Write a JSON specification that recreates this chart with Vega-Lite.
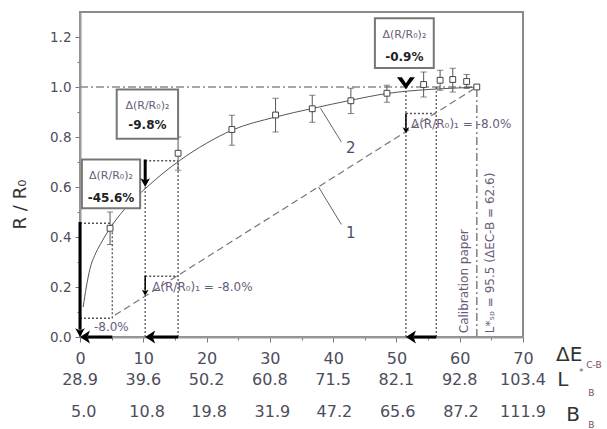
{
"$schema": "https://vega.github.io/schema/vega-lite/v6.json",
"width": 443, "height": 325,
"autosize": {"type": "none"},
"padding": {"left": 80, "top": 12, "right": 84, "bottom": 92},
"background": "white",
"config": {"view": {"stroke": "#8a8a8a", "strokeWidth": 2}, "font": "DejaVu Sans", "text": {"font": "DejaVu Sans"}},
"datasets": {
 "pts": [
  {"x": 4.75, "y": 0.435}, {"x": 15.5, "y": 0.735}, {"x": 24, "y": 0.83}, {"x": 30.9, "y": 0.888},
  {"x": 36.7, "y": 0.913}, {"x": 42.8, "y": 0.945}, {"x": 48.5, "y": 0.975}, {"x": 54.3, "y": 1.01},
  {"x": 56.9, "y": 1.027}, {"x": 58.9, "y": 1.03}, {"x": 61.1, "y": 1.022}, {"x": 62.7, "y": 1.0}
 ],
 "err": [
  {"x": 4.75, "y": 0.37, "y2": 0.5}, {"x": 15.5, "y": 0.667, "y2": 0.8}, {"x": 24, "y": 0.767, "y2": 0.887},
  {"x": 30.9, "y": 0.82, "y2": 0.955}, {"x": 36.7, "y": 0.859, "y2": 0.967}, {"x": 42.8, "y": 0.894, "y2": 0.995},
  {"x": 48.5, "y": 0.939, "y2": 1.007}, {"x": 54.3, "y": 0.96, "y2": 1.06}, {"x": 56.9, "y": 0.987, "y2": 1.067},
  {"x": 58.9, "y": 0.98, "y2": 1.075}, {"x": 61.1, "y": 0.994, "y2": 1.05}
 ],
 "caps": [
  {"x": 4.75, "y": 0.37}, {"x": 4.75, "y": 0.5}, {"x": 15.5, "y": 0.667}, {"x": 15.5, "y": 0.8},
  {"x": 24, "y": 0.767}, {"x": 24, "y": 0.887}, {"x": 30.9, "y": 0.82}, {"x": 30.9, "y": 0.955},
  {"x": 36.7, "y": 0.859}, {"x": 36.7, "y": 0.967}, {"x": 42.8, "y": 0.894}, {"x": 42.8, "y": 0.995},
  {"x": 48.5, "y": 0.939}, {"x": 48.5, "y": 1.007}, {"x": 54.3, "y": 0.96}, {"x": 54.3, "y": 1.06},
  {"x": 56.9, "y": 0.987}, {"x": 56.9, "y": 1.067}, {"x": 58.9, "y": 0.98}, {"x": 58.9, "y": 1.075},
  {"x": 61.1, "y": 0.994}, {"x": 61.1, "y": 1.05}
 ],
 "curve2": [
  {"x": 0.5, "y": 0.12}, {"x": 1, "y": 0.2}, {"x": 1.6, "y": 0.275}, {"x": 2.3, "y": 0.325},
  {"x": 3.2, "y": 0.37}, {"x": 4.75, "y": 0.435}, {"x": 7, "y": 0.51}, {"x": 10.6, "y": 0.6},
  {"x": 15.7, "y": 0.705}, {"x": 20, "y": 0.775}, {"x": 24, "y": 0.827}, {"x": 30.9, "y": 0.88},
  {"x": 36.7, "y": 0.914}, {"x": 42.8, "y": 0.947}, {"x": 48.5, "y": 0.974}, {"x": 55, "y": 0.99},
  {"x": 61.3, "y": 0.998}, {"x": 62.7, "y": 1.0}
 ],
 "line1": [{"x": 5.5, "y": 0.087}, {"x": 62.7, "y": 1.0}],
 "ref": [{"x": 0, "y": 1, "x2": 62.7, "y2": 1}, {"x": 62.7, "y": 0, "x2": 62.7, "y2": 1}],
 "dots": [
  {"x": 0, "y": 0.455, "x2": 5.1, "y2": 0.455},
  {"x": 5.1, "y": 0.075, "x2": 5.1, "y2": 0.455},
  {"x": 0, "y": 0.075, "x2": 5.1, "y2": 0.075},
  {"x": 10.3, "y": 0, "x2": 10.3, "y2": 0.705},
  {"x": 10.3, "y": 0.705, "x2": 15.5, "y2": 0.705},
  {"x": 15.5, "y": 0, "x2": 15.5, "y2": 0.705},
  {"x": 10.3, "y": 0.243, "x2": 15.5, "y2": 0.243},
  {"x": 51.5, "y": 0, "x2": 51.5, "y2": 1.0},
  {"x": 56.3, "y": 0, "x2": 56.3, "y2": 1.0},
  {"x": 51.5, "y": 0.894, "x2": 56.3, "y2": 0.894}
 ],
 "thick": [
  {"x": 0, "y": 0.46, "x2": 0, "y2": 0.03},
  {"x": 5.1, "y": 0, "x2": 1.2, "y2": 0},
  {"x": 15.5, "y": 0, "x2": 11.5, "y2": 0},
  {"x": 56.3, "y": 0, "x2": 52.7, "y2": 0},
  {"x": 10.3, "y": 0.71, "x2": 10.3, "y2": 0.625}
 ],
 "thin": [
  {"x": 10.3, "y": 0.245, "x2": 10.3, "y2": 0.185},
  {"x": 51.5, "y": 0.894, "x2": 51.5, "y2": 0.835}
 ],
 "headL": [{"x": 0, "y": 0}, {"x": 10.3, "y": 0}, {"x": 51.5, "y": 0}],
 "headD": [{"x": 0, "y": 0}, {"x": 10.3, "y": 0.6}],
 "headS": [{"x": 10.3, "y": 0.165}, {"x": 51.5, "y": 0.815}],
 "chevron": [{"x": 51.5, "y": 1.01}],
 "leaders": [{"x": 38, "y": 0.915, "x2": 41.3, "y2": 0.78}, {"x": 37.7, "y": 0.6, "x2": 41.3, "y2": 0.45}],
 "curveLabels": [{"x": 42.8, "y": 0.415, "label": "1"}, {"x": 42.8, "y": 0.755, "label": "2"}],
 "boxes": [
  {"x": 0.3, "x2": 9.5, "y": 0.515, "y2": 0.71},
  {"x": 5.8, "x2": 15.5, "y": 0.793, "y2": 0.99},
  {"x": 46.6, "x2": 55.9, "y": 1.076, "y2": 1.275}
 ],
 "boxTitle": [
  {"x": 4.9, "y": 0.644, "label": "Δ(R/R₀)₂"},
  {"x": 10.65, "y": 0.924, "label": "Δ(R/R₀)₂"},
  {"x": 51.25, "y": 1.208, "label": "Δ(R/R₀)₂"}
 ],
 "boxValue": [
  {"x": 4.9, "y": 0.556, "label": "-45.6%"},
  {"x": 10.65, "y": 0.848, "label": "-9.8%"},
  {"x": 51.25, "y": 1.12, "label": "-0.9%"}
 ],
 "deltaLabels": [
  {"x": 11.4, "y": 0.2, "label": "Δ(R/R₀)₁ = -8.0%"},
  {"x": 52.3, "y": 0.853, "label": "Δ(R/R₀)₁ = -8.0%"},
  {"x": 2.2, "y": 0.04, "label": "-8.0%"}
 ],
 "calib": [
  {"x": 60.7, "y": 0.015, "label": "Calibration paper"},
  {"x": 64.8, "y": 0.015, "label": "L*ₛₚ = 95.5  (ΔEC-B = 62.6)"}
 ],
 "rows": [
  {"x": 0, "y": -0.172, "label": "28.9"}, {"x": 10, "y": -0.172, "label": "39.6"}, {"x": 20, "y": -0.172, "label": "50.2"}, {"x": 30, "y": -0.172, "label": "60.8"},
  {"x": 40, "y": -0.172, "label": "71.5"}, {"x": 50, "y": -0.172, "label": "82.1"}, {"x": 60, "y": -0.172, "label": "92.8"}, {"x": 70, "y": -0.172, "label": "103.4"},
  {"x": 0.6, "y": -0.3, "label": "5.0"}, {"x": 10.6, "y": -0.3, "label": "10.8"}, {"x": 20.4, "y": -0.3, "label": "19.8"}, {"x": 30.4, "y": -0.3, "label": "31.9"},
  {"x": 40.2, "y": -0.3, "label": "47.2"}, {"x": 50.2, "y": -0.3, "label": "65.6"}, {"x": 60.2, "y": -0.3, "label": "87.2"}, {"x": 70, "y": -0.3, "label": "111.9"}
 ],
 "bigSym": [{"x": 77.3, "y": -0.073, "label": "ΔE"}, {"x": 76.3, "y": -0.173, "label": "L"}, {"x": 77.9, "y": -0.313, "label": "B"}],
 "smallSym": [{"x": 81.2, "y": -0.113, "label": "C-B"}, {"x": 80.8, "y": -0.222, "label": "B"}, {"x": 80.8, "y": -0.35, "label": "B"}, {"x": 79.2, "y": -0.14, "label": "*"}]
},
"encoding": {
 "x": {"field": "x", "type": "quantitative", "scale": {"domain": [0, 70], "nice": false, "zero": false},
  "axis": {"values": [0, 5, 10, 15, 20, 25, 30, 35, 40, 45, 50, 55, 60, 65, 70],
   "labelExpr": "datum.value % 10 === 0 ? datum.label : ''", "title": null, "grid": false,
   "tickSize": {"condition": {"test": "datum.value % 10 === 0", "value": 5}, "value": 3},
   "labelFontSize": 16, "labelColor": "#4d4d5d", "labelPadding": 8, "labelOverlap": false, "labelFlush": false,
   "domainColor": "#9a9a9a", "domainWidth": 2, "tickColor": "#777", "labelFont": "DejaVu Sans"}},
 "y": {"field": "y", "type": "quantitative", "scale": {"domain": [0, 1.3], "nice": false, "zero": false},
  "axis": {"values": [0, 0.1, 0.2, 0.3, 0.4, 0.5, 0.6, 0.7, 0.8, 0.9, 1.0, 1.1, 1.2],
   "labelExpr": "round(datum.value * 10) % 2 === 0 ? format(datum.value, '.1f') : ''",
   "title": "R / R₀", "titleFontSize": 18, "titleFont": "DejaVu Sans", "titleFontWeight": "normal", "titleColor": "#333",
   "titleX": -60, "titleY": 192, "titleAlign": "center", "titleBaseline": "middle", "titleAngle": 270,
   "grid": false,
   "tickSize": {"condition": {"test": "round(datum.value * 10) % 2 === 0", "value": 5}, "value": 3},
   "labelFontSize": 13.5, "labelColor": "#4d4d5d", "labelPadding": 4, "labelOverlap": false, "labelFlush": false,
   "domainColor": "#9a9a9a", "domainWidth": 2, "tickColor": "#777", "labelFont": "DejaVu Sans"}}
},
"layer": [
 {"data": {"name": "ref"}, "mark": {"type": "rule", "color": "#8a8a8a", "strokeWidth": 1.6, "strokeDash": [8, 3, 2, 3]},
  "encoding": {"x2": {"field": "x2"}, "y2": {"field": "y2"}}},
 {"data": {"name": "dots"}, "mark": {"type": "rule", "color": "#555", "strokeWidth": 1.3, "strokeDash": [2, 2]},
  "encoding": {"x2": {"field": "x2"}, "y2": {"field": "y2"}}},
 {"data": {"name": "line1"}, "mark": {"type": "line", "color": "#777", "strokeWidth": 1.2, "strokeDash": [7, 4]}},
 {"data": {"name": "curve2"}, "mark": {"type": "line", "color": "#555", "strokeWidth": 1, "interpolate": "monotone"}},
 {"data": {"name": "leaders"}, "mark": {"type": "rule", "color": "#666", "strokeWidth": 1},
  "encoding": {"x2": {"field": "x2"}, "y2": {"field": "y2"}}},
 {"data": {"name": "err"}, "mark": {"type": "rule", "color": "#555", "strokeWidth": 1},
  "encoding": {"y2": {"field": "y2"}}},
 {"data": {"name": "caps"}, "mark": {"type": "point", "shape": "stroke", "size": 40, "color": "#555", "strokeWidth": 1}},
 {"data": {"name": "pts"}, "mark": {"type": "point", "shape": "square", "size": 34, "filled": false, "fill": "white", "stroke": "#444", "strokeWidth": 1, "opacity": 1}},
 {"data": {"name": "boxes"}, "mark": {"type": "rect", "fill": "white", "stroke": "#777", "strokeWidth": 2},
  "encoding": {"x2": {"field": "x2"}, "y2": {"field": "y2"}}},
 {"data": {"name": "boxTitle"}, "mark": {"type": "text", "fontSize": 11, "color": "#6b5b7b", "align": "center", "baseline": "middle"},
  "encoding": {"text": {"field": "label"}}},
 {"data": {"name": "boxValue"}, "mark": {"type": "text", "fontSize": 12, "fontWeight": "bold", "color": "#222", "align": "center", "baseline": "middle"},
  "encoding": {"text": {"field": "label"}}},
 {"data": {"name": "thick"}, "mark": {"type": "rule", "color": "black", "strokeWidth": 3},
  "encoding": {"x2": {"field": "x2"}, "y2": {"field": "y2"}}},
 {"data": {"name": "thin"}, "mark": {"type": "rule", "color": "black", "strokeWidth": 1.5},
  "encoding": {"x2": {"field": "x2"}, "y2": {"field": "y2"}}},
 {"data": {"name": "headL"}, "mark": {"type": "point", "shape": "M0,0L1,-0.65L0.75,0L1,0.65Z", "size": 400, "filled": true, "color": "black", "opacity": 1}},
 {"data": {"name": "headD"}, "mark": {"type": "point", "shape": "M0,0L-0.55,-1L0,-0.75L0.55,-1Z", "size": 300, "filled": true, "color": "black", "opacity": 1}},
 {"data": {"name": "headS"}, "mark": {"type": "point", "shape": "M0,0L-0.55,-1L0,-0.75L0.55,-1Z", "size": 150, "filled": true, "color": "black", "opacity": 1}},
 {"data": {"name": "chevron"}, "mark": {"type": "point", "shape": "M-1,-0.8L0,0.5L1,-0.8L0.45,-0.8L0,-0.15L-0.45,-0.8Z", "size": 324, "filled": true, "color": "black", "opacity": 1}},
 {"data": {"name": "deltaLabels"}, "mark": {"type": "text", "fontSize": 12, "color": "#6b5b7b", "align": "left", "baseline": "middle"},
  "encoding": {"text": {"field": "label"}}},
 {"data": {"name": "curveLabels"}, "mark": {"type": "text", "fontSize": 15, "color": "#4d4d6d", "align": "center", "baseline": "middle"},
  "encoding": {"text": {"field": "label"}}},
 {"data": {"name": "calib"}, "mark": {"type": "text", "fontSize": 12, "color": "#6b5b7b", "align": "left", "baseline": "middle", "angle": 270},
  "encoding": {"text": {"field": "label"}}},
 {"data": {"name": "rows"}, "mark": {"type": "text", "fontSize": 16, "color": "#4d4d5d", "align": "center", "baseline": "middle"},
  "encoding": {"text": {"field": "label"}}},
 {"data": {"name": "bigSym"}, "mark": {"type": "text", "fontSize": 20, "color": "#333", "align": "center", "baseline": "middle"},
  "encoding": {"text": {"field": "label"}}},
 {"data": {"name": "smallSym"}, "mark": {"type": "text", "fontSize": 9, "color": "#7a4a6a", "align": "center", "baseline": "middle"},
  "encoding": {"text": {"field": "label"}}}
]
}
